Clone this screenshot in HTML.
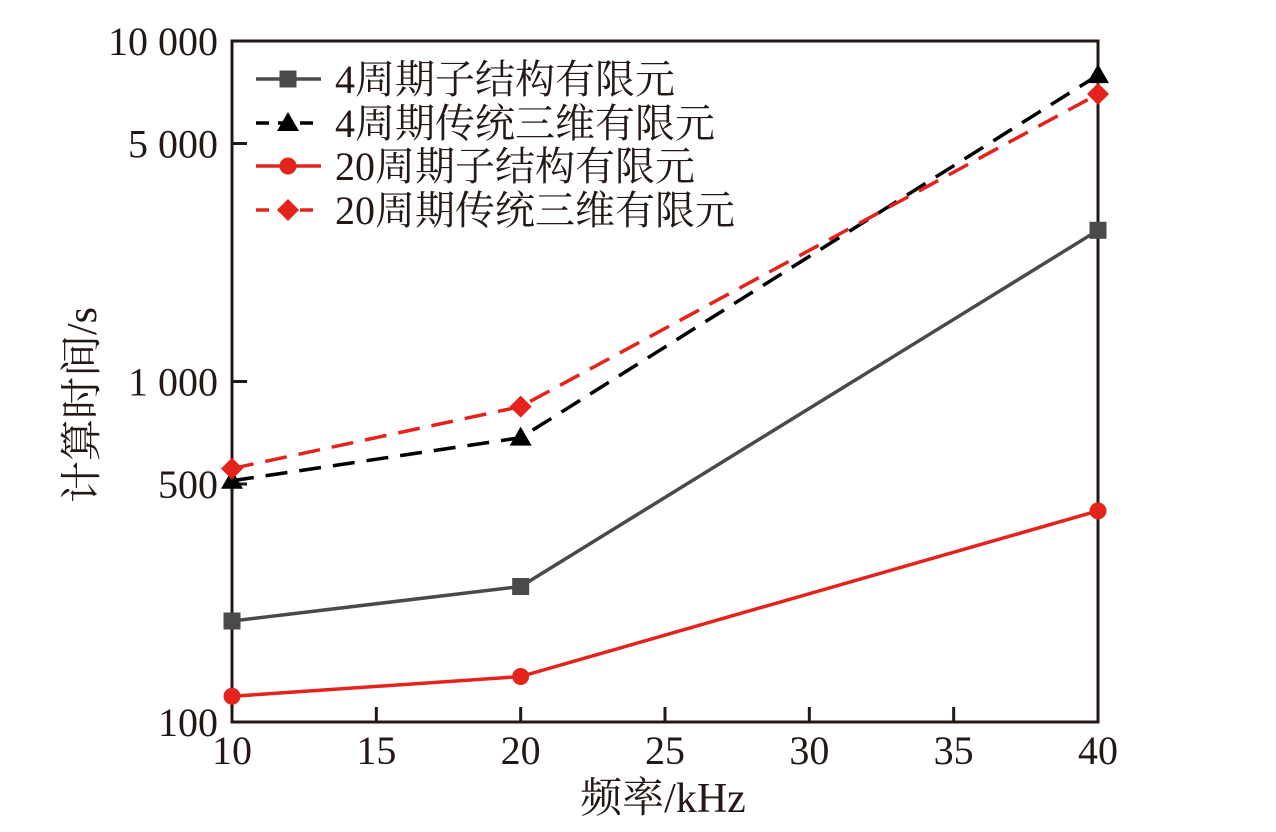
<!DOCTYPE html>
<html><head><meta charset="utf-8"><style>
body{margin:0;background:#fff}
svg text{font-family:"Liberation Serif","Noto Serif CJK SC",serif;fill:#231815}
</style></head><body>
<svg width="1276" height="827">
<g id="g"></g>
</svg>
<script>
const freqs=[10,20,40];
const gray4=[198,250,2780];
const black4=[511,684,7940];
const red20=[119,136,417];
const redDash20=[555,844,6985];
const yTicks=[100,500,1000,5000,10000];
const yTickLabels=["100","500","1 000","5 000","10 000"];
const xTicks=[10,15,20,25,30,35,40];
const legendLabels=["4周期子结构有限元","4周期传统三维有限元","20周期子结构有限元","20周期传统三维有限元"];
const L=232,R=1098,T=41,B=722;
const xs=v=>L+(v-10)/30*(R-L);
const ys=v=>B-(Math.log10(v)-2)/2*(B-T);
const NS="http://www.w3.org/2000/svg",g=document.getElementById('g');
function mk(t,a,p){const e=document.createElementNS(NS,t);for(const k in a)e.setAttribute(k,a[k]);(p||g).appendChild(e);return e;}
const ax=mk('rect',{x:L,y:T,width:R-L,height:B-T,fill:'none',stroke:'#231815','stroke-width':3});

yTicks.forEach((v,i)=>{const y=ys(v);
 if(v>100&&v<10000){const t=mk('line',{x1:L,x2:L+15,y1:y,y2:y,stroke:'#231815','stroke-width':3});}
 const tx=mk('text',{x:218,y:y+14,'text-anchor':'end','font-size':40});tx.textContent=yTickLabels[i];
 });
xTicks.forEach(v=>{const x=xs(v);
 if(v>10&&v<40){const t=mk('line',{x1:x,x2:x,y1:B,y2:B-15,stroke:'#231815','stroke-width':3});}
 const tx=mk('text',{x:x,y:764,'text-anchor':'middle','font-size':40});tx.textContent=v;
 });
const yt=mk('text',{x:0,y:0,'text-anchor':'middle','font-size':42,transform:'translate(96,405) rotate(-90)'});yt.textContent='计算时间/s';

const xt=mk('text',{x:663,y:812,'text-anchor':'middle','font-size':42});xt.textContent='频率/kHz';

const series=[
 {d:gray4,c:'#4a4a4a',dash:'',m:'square'},
 {d:black4,c:'#000',dash:'22,12',m:'tri'},
 {d:red20,c:'#e5231d',dash:'',m:'circle'},
 {d:redDash20,c:'#e5231d',dash:'22,12',m:'diamond'}];
function marker(m,x,y,c,p){
 let e;
 if(m=='square')e=mk('rect',{x:x-8.5,y:y-8.5,width:17,height:17,fill:c},p);
 else if(m=='circle')e=mk('circle',{cx:x,cy:y,r:8.5,fill:c},p);
 else if(m=='tri')e=mk('polygon',{points:`${x},${y-11} ${x-11},${y+8} ${x+11},${y+8}`,fill:c},p);
 else e=mk('polygon',{points:`${x},${y-11} ${x+11},${y} ${x},${y+11} ${x-11},${y}`,fill:c},p);
 }
series.forEach((s,i)=>{
 const pg=mk('g',{});
 const pl=mk('polyline',{points:s.d.map((v,j)=>xs(freqs[j])+','+ys(v)).join(' '),fill:'none',stroke:s.c,'stroke-width':3.5,'stroke-dasharray':s.dash},pg);
 
 s.d.forEach((v,j)=>marker(s.m,xs(freqs[j]),ys(v),s.c,pg));
 const ly=[79,123,166,210][i];
 const lg=mk('g',{});
 mk('line',{x1:256,x2:321,y1:ly,y2:ly,stroke:s.c,'stroke-width':3.5,'stroke-dasharray':s.dash?'13,9':''},lg);
 marker(s.m,288,ly,s.c,lg);
 const t=mk('text',{x:335,y:ly+14,'font-size':40},lg);t.textContent=legendLabels[i];
});
</script>
</body></html>
